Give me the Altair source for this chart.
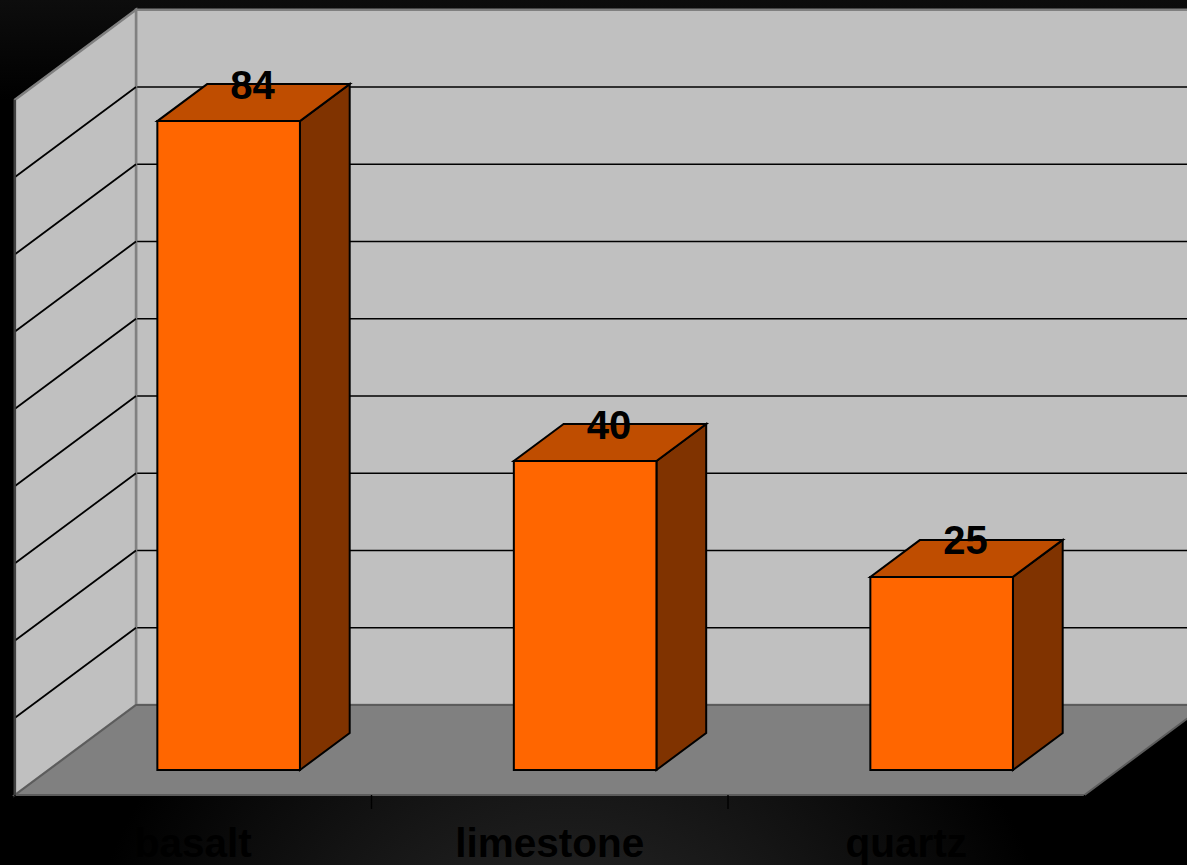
import altair as alt
import pandas as pd

# Chart values
categories = ["basalt", "limestone", "quartz"]
values = [84, 40, 25]
grid_values = [10, 20, 30, 40, 50, 60, 70, 80]
axis_max = 90

# Canvas and oblique-projection settings
W, H = 1187, 865
ORIGIN_X, ORIGIN_Y = 15, 795      # front-left floor corner on the canvas
CAT_PX, UNIT_PX = 356.5, 7.725    # pixels per category and per value unit
DEPTH_X = 121 / CAT_PX            # full floor depth in category units
DEPTH_Y = 90 / UNIT_PX            # full floor depth in value units
BAR_FRONT, BAR_BACK = 25 / 90, 62 / 90
BAR_START, BAR_END = 0.305, 0.705
N = len(categories)


def px(c, d=0.0):
    return c + d * DEPTH_X


def py(v, d=0.0):
    return v + d * DEPTH_Y


x_scale = alt.Scale(domain=[-ORIGIN_X / CAT_PX, (W - ORIGIN_X) / CAT_PX], nice=False, zero=False)
y_scale = alt.Scale(domain=[(ORIGIN_Y - H) / UNIT_PX, ORIGIN_Y / UNIT_PX], nice=False, zero=False)
X = alt.X("x:Q", scale=x_scale, axis=None)
Y = alt.Y("y:Q", scale=y_scale, axis=None)
X2 = alt.X2("x2:Q")
Y2 = alt.Y2("y2:Q")

# Backdrop: black page, soft glow along the bottom and a faint haze along the top
glow = alt.Chart(pd.DataFrame({"k": [0]})).mark_rect(
    fill=alt.Gradient(
        gradient="radial", x1=0.48, y1=1.02, r1=0, x2=0.48, y2=1.02, r2=0.42,
        stops=[alt.GradientStop(offset=0, color="#303030"),
               alt.GradientStop(offset=0.5, color="#181818"),
               alt.GradientStop(offset=1, color="#000000")],
    )
).encode(x=alt.value(0), x2=alt.value(W), y=alt.value(0), y2=alt.value(H))

haze = alt.Chart(pd.DataFrame({"k": [0]})).mark_rect(
    fill=alt.Gradient(
        gradient="linear", x1=0, y1=0, x2=0, y2=1,
        stops=[alt.GradientStop(offset=0, color="#0d0d0d"),
               alt.GradientStop(offset=1, color="#000000")],
    )
).encode(x=alt.value(0), x2=alt.value(W), y=alt.value(0), y2=alt.value(100))

# Back wall
back_wall = alt.Chart(pd.DataFrame({
    "x": [px(0, 1)], "x2": [px(N, 1)], "y": [py(0, 1)], "y2": [py(axis_max, 1)],
})).mark_rect(fill="#C0C0C0", stroke="#808080", strokeWidth=2.5, clip=True).encode(x=X, x2=X2, y=Y, y2=Y2)

back_grid = alt.Chart(pd.DataFrame({
    "x": [px(0, 1)] * len(grid_values),
    "x2": [px(N, 1)] * len(grid_values),
    "y": [py(v, 1) for v in grid_values],
})).mark_rule(color="#000000", strokeWidth=1.6, clip=True).encode(x=X, x2=X2, y=Y)

# Left wall
left_wall = alt.Chart(pd.DataFrame({
    "x": [px(0, 0), px(0, 1)],
    "y": [py(0, 0), py(0, 1)],
    "y2": [py(axis_max, 0), py(axis_max, 1)],
})).mark_area(fill="#C0C0C0", stroke="#808080", strokeWidth=2.5, orient="vertical").encode(x=X, y=Y, y2=Y2)

left_edge = alt.Chart(pd.DataFrame({
    "x": [px(0, 0)], "y": [py(0, 0)], "y2": [py(axis_max, 0)],
})).mark_rule(color="#3a3a3a", strokeWidth=1.8).encode(x=X, y=Y, y2=Y2)

wall_rows = []
for v in grid_values:
    wall_rows.append({"v": v, "x": px(0, 0), "y": py(v, 0)})
    wall_rows.append({"v": v, "x": px(0, 1), "y": py(v, 1)})
left_grid = alt.Chart(pd.DataFrame(wall_rows)).mark_line(color="#000000", strokeWidth=1.8).encode(x=X, y=Y, detail="v:N")

# Floor
floor = alt.Chart(pd.DataFrame({
    "y": [py(0, 0), py(0, 1)],
    "x": [px(0, 0), px(0, 1)],
    "x2": [px(N, 0), px(N, 1)],
})).mark_area(fill="#808080", stroke="#5c5c5c", strokeWidth=2, orient="horizontal", clip=True).encode(y=Y, x=X, x2=X2)

# Ticks under the floor between the categories
ticks = alt.Chart(pd.DataFrame({
    "x": [float(i) for i in range(N + 1)],
})).mark_rule(color="#000000", strokeWidth=1.4).encode(
    x=X, y=alt.value(ORIGIN_Y), y2=alt.value(ORIGIN_Y + 14)
)

# Bars: front, right side and top faces
front_df = pd.DataFrame({
    "x": [px(i + BAR_START, BAR_FRONT) for i in range(N)],
    "x2": [px(i + BAR_END, BAR_FRONT) for i in range(N)],
    "y": [py(0, BAR_FRONT)] * N,
    "y2": [py(v, BAR_FRONT) for v in values],
})
fronts = alt.Chart(front_df).mark_rect(fill="#FF6600", stroke="#000000", strokeWidth=2).encode(x=X, x2=X2, y=Y, y2=Y2)

side_rows, top_rows = [], []
for i, (c, v) in enumerate(zip(categories, values)):
    for d in (BAR_FRONT, BAR_BACK):
        side_rows.append({"c": c, "x": px(i + BAR_END, d), "y": py(0, d), "y2": py(v, d)})
        top_rows.append({"c": c, "y": py(v, d), "x": px(i + BAR_START, d), "x2": px(i + BAR_END, d)})
sides = alt.Chart(pd.DataFrame(side_rows)).mark_area(
    fill="#803300", stroke="#000000", strokeWidth=2, orient="vertical"
).encode(x=X, y=Y, y2=Y2, detail="c:N")
tops = alt.Chart(pd.DataFrame(top_rows)).mark_area(
    fill="#BF4D00", stroke="#000000", strokeWidth=2, orient="horizontal"
).encode(y=Y, x=X, x2=X2, detail="c:N")

# Value labels centred on the top faces
mid = (BAR_FRONT + BAR_BACK) / 2
value_labels = alt.Chart(pd.DataFrame({
    "x": [px(i + (BAR_START + BAR_END) / 2, mid) for i in range(N)],
    "y": [py(v, mid) for v in values],
    "label": [str(v) for v in values],
})).mark_text(
    font="Liberation Sans", fontWeight="bold", fontSize=40, color="#000000",
    align="center", baseline="middle", dx=-1, dy=-16,
).encode(x=X, y=Y, text="label:N")

# Category labels under the floor
category_labels = alt.Chart(pd.DataFrame({
    "x": [i + 0.5 for i in range(N)],
    "label": categories,
})).mark_text(
    font="Liberation Sans", fontWeight="bold", fontSize=40.5, color="#000000",
    align="center", baseline="alphabetic",
).encode(x=X, y=alt.value(857), text="label:N")

chart = alt.layer(
    glow, haze, back_wall, back_grid, left_wall, left_grid, floor, left_edge, ticks,
    sides, tops, fronts, value_labels, category_labels,
).properties(
    width=W, height=H, padding=0, background="#000000",
    autosize=alt.AutoSizeParams(type="none"),
).configure_view(stroke=None)

chart.save("out.html", embed_options={"renderer": "svg", "actions": False})
